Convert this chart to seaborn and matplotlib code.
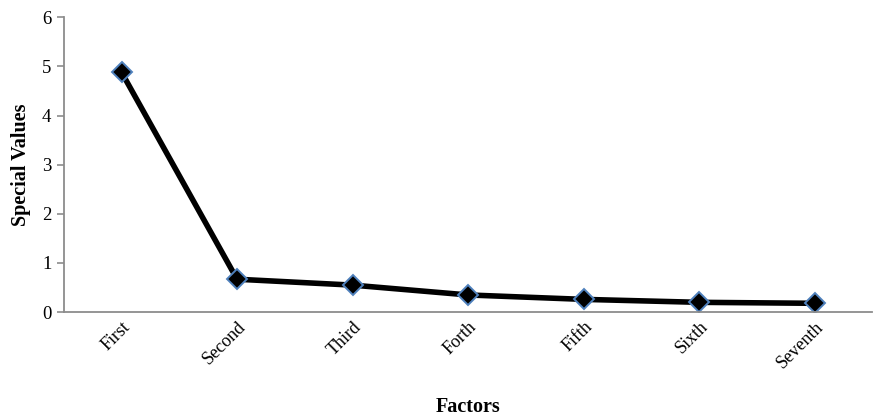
import pandas as pd
import matplotlib
matplotlib.use("Agg")
import matplotlib.pyplot as plt
import seaborn as sns

# Chart data
factors = ["First", "Second", "Third", "Forth", "Fifth", "Sixth", "Seventh"]
special_values = [4.88, 0.67, 0.55, 0.35, 0.26, 0.20, 0.18]

df = pd.DataFrame({"Factors": factors, "Special Values": special_values})

sns.set_style("white")
plt.rcParams["font.family"] = ["Liberation Serif", "DejaVu Serif"]
plt.rcParams.update({"text.color": "black", "axes.labelcolor": "black",
                     "xtick.color": "black", "ytick.color": "black"})

fig = plt.figure(figsize=(8.74, 4.19), dpi=100)
ax = fig.add_axes([0.073, 0.255, 0.925, 0.704])

sns.lineplot(data=df, x="Factors", y="Special Values", ax=ax, sort=False,
             color="black", linewidth=4, marker="D", markersize=10,
             markerfacecolor="black", markeredgecolor="#4f81bd", markeredgewidth=1.4)

ax.set_xlim(-0.5, len(factors) - 0.5)
ax.set_ylim(0, 6)
ax.set_yticks(range(0, 7))

for side in ["top", "right"]:
    ax.spines[side].set_visible(False)
for side in ["left", "bottom"]:
    ax.spines[side].set_color("#8c8c8c")
    ax.spines[side].set_linewidth(1.3)

ax.tick_params(axis="y", which="major", left=True, length=5, width=1.2, color="#8c8c8c",
               labelsize=13.5, labelcolor="black", pad=4)
ax.tick_params(axis="x", bottom=False, labelsize=13, labelcolor="black", pad=1)
plt.setp(ax.get_xticklabels(), rotation=45, ha="right", rotation_mode="anchor")

ax.set_xlabel("Factors", fontsize=14.5, fontweight="bold", labelpad=18)
ax.set_ylabel("Special Values", fontsize=14.5, fontweight="bold", labelpad=8)

fig.savefig("out.png", dpi=100)
